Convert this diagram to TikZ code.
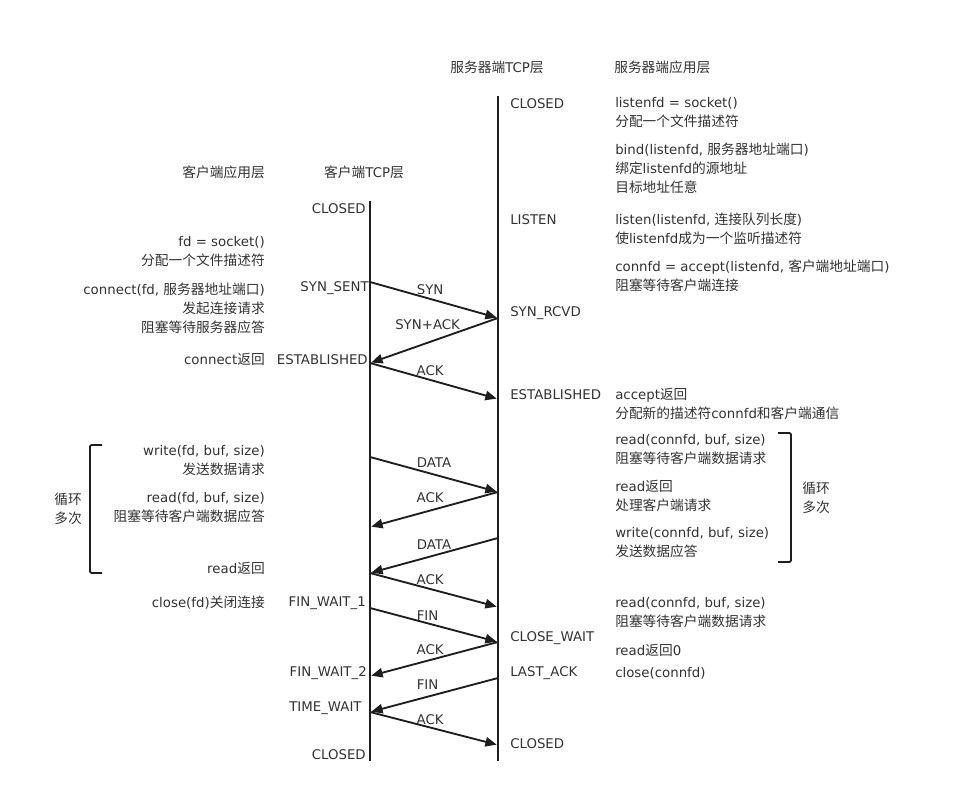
\documentclass[tikz,border=0pt]{standalone}
\usepackage{fontspec}
\setmainfont{DejaVu Sans}
\newfontfamily\cjk[Scale=1.03]{Noto Sans CJK SC}
\newcommand{\zh}[1]{{\cjk #1}}
\usetikzlibrary{positioning, arrows.meta}
\definecolor{inkdark}{RGB}{30,30,30}
\definecolor{inktext}{RGB}{50,50,50}

\begin{document}
\begin{tikzpicture}[
  x=0.75pt, y=-0.75pt,
  label/.style   ={inner sep=0pt, text=inktext, font=\fontsize{10}{14.25}\selectfont},
  appleft/.style ={label, anchor=west, align=left},
  appright/.style={label, anchor=east, align=right},
  loopnote/.style={label, align=center},
  msglabel/.style={label, anchor=center},
  lifeline/.style={line width=2pt, color=inkdark},
  msg/.style     ={-{Triangle[length=8.5pt,width=7pt]}, line width=1.4pt, color=inkdark, shorten >=1pt},
  bracket/.style ={line width=1.4pt, color=inkdark, rounded corners=1pt}
]
  \useasboundingbox (0,0) rectangle (967,787);

  % columns
  \node[appright] (hclientapp) at (265,172.5) {\zh{客户端应用层}};
  \node[label]    (hclienttcp) at (364,172.5) {\zh{客户端}TCP\zh{层}};
  \node[label]    (hservertcp) at (497,67.5)  {\zh{服务器端}TCP\zh{层}};
  \node[appleft]  (hserverapp) at (614,67.5)  {\zh{服务器端应用层}};

  % lifelines
  \coordinate (ctop) at (370,201);
  \coordinate (cbot) at (370,761);
  \coordinate (stop) at (498,96);
  \coordinate (sbot) at (498,761);
  \draw[lifeline] (ctop) -- (cbot);
  \draw[lifeline] (stop) -- (sbot);

  % client states
  \node[appright] (cclosed)  at (366,208.5) {CLOSED};
  \node[appright] (csynsent) at (369,288.5) {SYN\_SENT};
  \node[appright] (cestab)   at (368,359.5) {ESTABLISHED};
  \node[appright] (cfin1)    at (366,603.5) {FIN\_WAIT\_1};
  \node[appright] (cfin2)    at (367,673.5) {FIN\_WAIT\_2};
  \node[appleft]  (ctimew)   at (289,708.5) {TIME\_WAIT};
  \node[appright] (cclosedb) at (366,754.5) {CLOSED};

  % server states
  \node[appleft] (sclosed)  at (510,103.5) {CLOSED};
  \node[appleft] (slisten)  at (510,219.5) {LISTEN};
  \node[appleft] (ssynrcvd) at (510,313.5) {SYN\_RCVD};
  \node[appleft] (sestab)   at (510,394.5) {ESTABLISHED};
  \node[appleft] (sclosew)  at (510,638.5) {CLOSE\_WAIT};
  \node[appleft] (slastack) at (510,673.5) {LAST\_ACK};
  \node[appleft] (sclosedb) at (510,743.5) {CLOSED};

  % client application
  \node[appright] (asocket)  at (265,252)   {fd = socket()\\\zh{分配一个文件描述符}};
  \node[appright] (aconnect) at (265,308)   {connect(fd, \zh{服务器地址端口})\\\zh{发起连接请求}\\\zh{阻塞等待服务器应答}};
  \node[appright] (aconnret) at (265,359.5) {connect\zh{返回}};
  \node[appright] (awrite)   at (265,461)   {write(fd, buf, size)\\\zh{发送数据请求}};
  \node[appright] (aread)    at (265,508)   {read(fd, buf, size)\\\zh{阻塞等待客户端数据应答}};
  \node[appright] (areadret) at (265,568)   {read\zh{返回}};
  \node[appright] (aclose)   at (265,603)   {close(fd)\zh{关闭连接}};
  \node[loopnote] (aloop)    at (68,508.5)  {\zh{循环}\\\zh{多次}};

  % server application
  \node[appleft] (bsocket)  at (615,112.5) {listenfd = socket()\\\zh{分配一个文件描述符}};
  \node[appleft] (bbind)    at (615,168)   {bind(listenfd, \zh{服务器地址端口})\\\zh{绑定}listenfd\zh{的源地址}\\\zh{目标地址任意}};
  \node[appleft] (blisten)  at (615,228.5) {listen(listenfd, \zh{连接队列长度})\\\zh{使}listenfd\zh{成为一个监听描述符}};
  \node[appleft] (baccept)  at (615,275.5) {connfd = accept(listenfd, \zh{客户端地址端口})\\\zh{阻塞等待客户端连接}};
  \node[appleft] (bacceptr) at (615,403.5) {accept\zh{返回}\\\zh{分配新的描述符}connfd\zh{和客户端通信}};
  \node[appleft] (bread)    at (615,449.5) {read(connfd, buf, size)\\\zh{阻塞等待客户端数据请求}};
  \node[appleft] (breadret) at (615,496)   {read\zh{返回}\\\zh{处理客户端请求}};
  \node[appleft] (bwrite)   at (615,542.5) {write(connfd, buf, size)\\\zh{发送数据应答}};
  \node[appleft] (breadb)   at (615,612.5) {read(connfd, buf, size)\\\zh{阻塞等待客户端数据请求}};
  \node[appleft] (breadz)   at (615,650)   {read\zh{返回}0};
  \node[appleft] (bclose)   at (615,673.5) {close(connfd)};
  \node[loopnote] (bloop)   at (816,497.5) {\zh{循环}\\\zh{多次}};

  % message ends on the client line
  \coordinate (c1) at (370,282);
  \coordinate (c2) at (370,363);
  \coordinate (c3) at (370,457);
  \coordinate (c4) at (370,527);
  \coordinate (c5) at (370,573);
  \coordinate (c6) at (370,608);
  \coordinate (c7) at (370,676);
  \coordinate (c8) at (370,712);

  % message ends on the server line
  \coordinate (s1) at (498,318);
  \coordinate (s2) at (498,399);
  \coordinate (s3) at (498,492);
  \coordinate (s4) at (498,538);
  \coordinate (s5) at (498,607);
  \coordinate (s6) at (498,642);
  \coordinate (s7) at (498,678);
  \coordinate (s8) at (498,745);

  \draw[msg] (c1) -- node[msglabel, pos=.47, yshift=7pt]    {SYN}     (s1);
  \draw[msg] (s1) -- node[msglabel, pos=.55, yshift=13.3pt] {SYN+ACK} (c2);
  \draw[msg] (c2) -- node[msglabel, pos=.47, yshift=7pt]    {ACK}     (s2);
  \draw[msg] (c3) -- node[msglabel, pos=.5,  yshift=8.6pt]  {DATA}    (s3);
  \draw[msg] (s3) -- node[msglabel, pos=.53, yshift=9.5pt]  {ACK}     (c4);
  \draw[msg] (s4) -- node[msglabel, pos=.5,  yshift=8pt]    {DATA}    (c5);
  \draw[msg] (c5) -- node[msglabel, pos=.47, yshift=7pt]    {ACK}     (s5);
  \draw[msg] (c6) -- node[msglabel, pos=.45, yshift=6pt]    {FIN}     (s6);
  \draw[msg] (s6) -- node[msglabel, pos=.53, yshift=8pt]    {ACK}     (c7);
  \draw[msg] (s7) -- node[msglabel, pos=.55, yshift=9pt]    {FIN}     (c8);
  \draw[msg] (c8) -- node[msglabel, pos=.47, yshift=6pt]    {ACK}     (s8);

  % loop brackets
  \coordinate (la) at (102,445);
  \coordinate (lb) at (90,445);
  \coordinate (lc) at (90,573);
  \coordinate (ld) at (102,573);
  \draw[bracket] (la) -- (lb) -- (lc) -- (ld);
  \coordinate (ra) at (778,433);
  \coordinate (rb) at (791,433);
  \coordinate (rc) at (791,562);
  \coordinate (rd) at (778,562);
  \draw[bracket] (ra) -- (rb) -- (rc) -- (rd);
\end{tikzpicture}
\end{document}
